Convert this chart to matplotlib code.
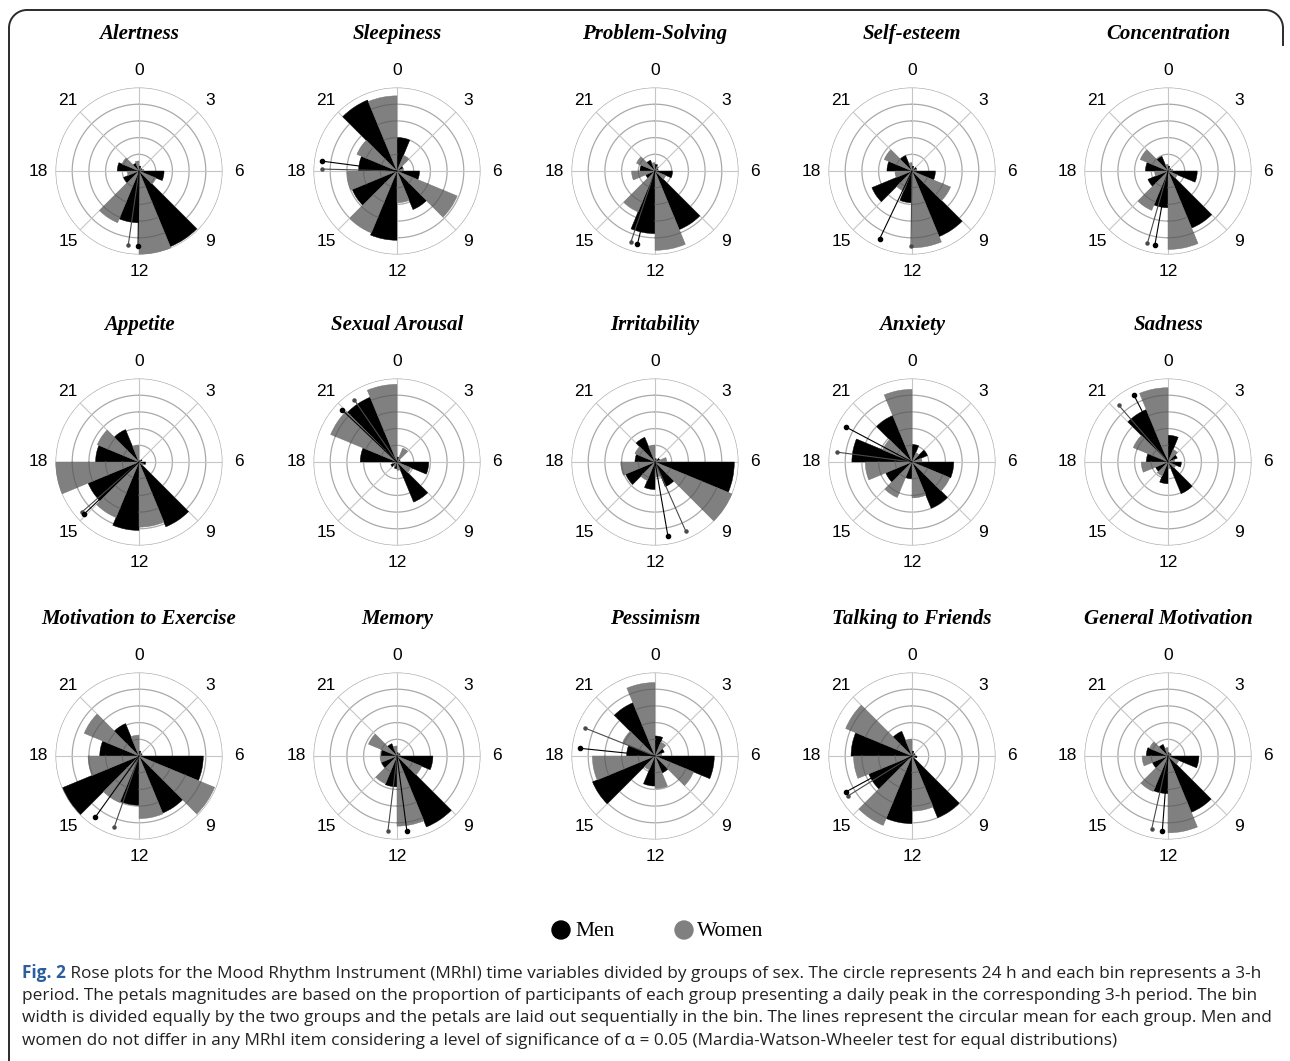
import numpy as np
import matplotlib
matplotlib.use('Agg')
import matplotlib.pyplot as plt
from matplotlib.patches import Circle

titles = ['Alertness', 'Sleepiness', 'Problem-Solving', 'Self-esteem', 'Concentration',
          'Appetite', 'Sexual Arousal', 'Irritability', 'Anxiety', 'Sadness',
          'Motivation to Exercise', 'Memory', 'Pessimism', 'Talking to Friends', 'General Motivation']

hour_ticks = [0, 3, 6, 9, 12, 15, 18, 21]

# petal lengths per 3-h bin (0-3, 3-6, ..., 21-24), 5 = outer ring
men = [
    [0.3, 0.2, 1.5, 4.9, 3.1, 1.0, 1.3, 0.5],
    [2.0, 0.4, 1.35, 2.5, 4.15, 2.9, 2.3, 4.6],
    [0.4, 0.2, 1.05, 3.8, 3.75, 0.6, 0.9, 0.7],
    [0.3, 0.3, 1.4, 4.25, 1.9, 2.6, 1.5, 1.0],
    [0.3, 0.2, 1.75, 3.7, 2.2, 1.3, 1.35, 0.95],
    [0.1, 0.2, 0.4, 4.2, 4.1, 3.3, 2.6, 2.1],
    [0.3, 0.2, 1.9, 2.6, 0.4, 0.4, 2.2, 4.2],
    [0.2, 0.3, 4.75, 1.6, 1.65, 1.9, 1.2, 1.6],
    [1.05, 1.0, 2.5, 3.0, 1.0, 1.7, 3.6, 3.0],
    [1.6, 0.6, 0.8, 2.05, 1.3, 0.8, 1.3, 3.4],
    [0.3, 0.2, 3.85, 3.7, 2.95, 4.95, 2.35, 2.1],
    [0.2, 0.2, 2.15, 4.6, 1.85, 1.0, 0.95, 0.8],
    [1.2, 0.6, 3.55, 1.1, 1.8, 4.05, 1.7, 3.45],
    [0.3, 0.2, 0.3, 4.0, 4.05, 2.8, 3.65, 1.6],
    [0.2, 0.2, 1.85, 3.65, 2.25, 1.0, 1.3, 0.75],
]
women = [
    [0.2, 0.3, 1.1, 5.0, 3.35, 0.7, 1.1, 0.6],
    [1.0, 0.4, 3.9, 1.9, 4.0, 3.0, 2.6, 4.5],
    [0.3, 0.2, 0.7, 4.75, 2.65, 1.4, 1.2, 0.5],
    [0.2, 0.3, 2.5, 4.6, 1.3, 1.0, 1.8, 0.5],
    [0.2, 0.3, 0.6, 4.7, 2.55, 0.8, 1.8, 0.4],
    [0.1, 0.1, 0.3, 3.9, 3.6, 5.0, 2.7, 1.0],
    [0.9, 0.2, 0.9, 0.5, 0.3, 0.3, 4.3, 4.65],
    [0.2, 0.7, 5.0, 0.9, 1.2, 2.05, 1.3, 1.0],
    [0.6, 0.6, 2.45, 2.15, 2.3, 2.8, 1.9, 4.35],
    [0.8, 0.4, 0.5, 0.4, 0.9, 1.6, 2.25, 4.45],
    [0.2, 0.2, 4.9, 3.75, 3.0, 3.05, 3.55, 1.25],
    [0.2, 0.2, 1.6, 4.2, 1.8, 1.0, 1.85, 0.6],
    [0.9, 0.4, 2.5, 1.95, 0.9, 3.75, 2.1, 4.4],
    [0.2, 0.2, 0.2, 3.3, 4.5, 3.5, 4.3, 1.0],
    [0.2, 0.2, 0.7, 4.6, 2.3, 1.55, 1.2, 0.5],
]

# circular means (hours)
men_mean = [12.05, 18.5, 12.9, 13.7, 12.67, 15.1, 20.9, 11.34, 19.86, 22.2,
            14.37, 11.5, 18.39, 16.1, 12.29]
women_mean = [12.55, 18.1, 13.25, 12.05, 13.06, 15.25, 21.7, 10.4, 18.5, 21.27,
              13.28, 12.46, 19.45, 15.87, 12.84]
mean_len = 4.5

caption_lines = [
    ' Rose plots for the Mood Rhythm Instrument (MRhI) time variables divided by groups of sex. The circle represents 24 h and each bin represents a 3-h',
    'period. The petals magnitudes are based on the proportion of participants of each group presenting a daily peak in the corresponding 3-h period. The bin',
    'width is divided equally by the two groups and the petals are laid out sequentially in the bin. The lines represent the circular mean for each group. Men and',
    'women do not differ in any MRhI item considering a level of significance of α = 0.05 (Mardia-Watson-Wheeler test for equal distributions)',
]

W, H = 1290, 1061
BLACK = '#000000'
GRAY = '#808080'


def h2rad(h):
    return np.asarray(h, dtype=float) / 24.0 * 2 * np.pi


fig = plt.figure(figsize=(W / 100, H / 100), dpi=100)
bg = fig.add_axes([0, 0, 1, 1])
bg.set_xlim(0, W)
bg.set_ylim(H, 0)
bg.axis('off')

centers_x = [139, 397, 655, 912, 1168]
centers_y = [171, 462, 756]
R = 83.5

circ = np.linspace(0, 2 * np.pi, 300)
starts = np.array(hour_ticks, dtype=float)

for i, title in enumerate(titles):
    cx = centers_x[i % 5]
    cy = centers_y[i // 5]
    ax = fig.add_axes([(cx - R) / W, (H - cy - R) / H, 2 * R / W, 2 * R / H], projection='polar')
    ax.set_theta_zero_location('N')
    ax.set_theta_direction(-1)
    ax.grid(False)
    ax.spines['polar'].set_visible(False)
    ax.patch.set_alpha(0)

    for r in range(1, 6):
        ax.plot(circ, np.full_like(circ, r), color='#a9a9a9', lw=0.9, zorder=1)
    for h in hour_ticks:
        ax.plot([h2rad(h)] * 2, [0, 5], color='#c6c6c6', lw=0.8, zorder=1)

    ax.bar(h2rad(starts), men[i], width=h2rad(1.5), align='edge',
           color=BLACK, edgecolor=BLACK, lw=0.3, zorder=2)
    ax.bar(h2rad(starts + 1.5), women[i], width=h2rad(1.5), align='edge',
           color=GRAY, edgecolor='#707070', lw=0.3, zorder=2)
    # ring arcs showing through the grey petals
    for s, v in zip(starts + 1.5, women[i]):
        for r in range(1, 5):
            if r < v:
                t = np.linspace(h2rad(s), h2rad(s + 1.5), 20)
                ax.plot(t, np.full_like(t, r), color='#686868', lw=0.8, zorder=3)

    ax.plot([h2rad(women_mean[i])] * 2, [0, mean_len], color='#4a4a4a', lw=0.8, zorder=4)
    ax.plot(h2rad(women_mean[i]), mean_len, 'o', color='#4a4a4a', ms=2.2, zorder=4)
    ax.plot([h2rad(men_mean[i])] * 2, [0, mean_len], color=BLACK, lw=0.8, zorder=4)
    ax.plot(h2rad(men_mean[i]), mean_len, 'o', color=BLACK, ms=3, zorder=4)

    ax.set_xticks([])
    ax.set_yticks([])
    ax.set_ylim(0, 5)
    for h in hour_ticks:
        ax.text(h2rad(h), 6.0, str(h), ha='center', va='center', fontsize=12.5,
                family='Liberation Sans', clip_on=False)

    bg.text(cx, cy - 137, title, ha='center', va='center', fontsize=15,
            family='Liberation Serif', style='italic', weight='bold')

# frame
rc = 18
a1 = np.linspace(np.pi, 1.5 * np.pi, 30)
a2 = np.linspace(1.5 * np.pi, 2 * np.pi, 30)
fx = np.concatenate([[9, 9], 9 + rc + rc * np.cos(a1), 1283 - rc + rc * np.cos(a2), [1283]])
fy = np.concatenate([[H, 10 + rc], 10 + rc + rc * np.sin(a1), 10 + rc + rc * np.sin(a2), [45]])
bg.plot(fx, fy, color='#2b2b2b', lw=1.4)

# legend
bg.add_patch(Circle((561, 930), 9, color=BLACK))
bg.text(575, 931, 'Men', fontsize=15.5, family='Liberation Serif', va='center', ha='left')
bg.add_patch(Circle((684, 930), 9, color=GRAY))
bg.text(697, 931, 'Women', fontsize=15.5, family='Liberation Serif', va='center', ha='left')

# caption
cap_font = dict(fontsize=12.4, family='Open Sans')
line_y = [973, 996, 1018.5, 1041]
t0 = bg.text(22, line_y[0], 'Fig. 2', color='#2a5f9e', weight='bold', va='center', **cap_font)
bg.annotate(caption_lines[0], xy=(1, 0), xycoords=t0, va='bottom', ha='left', color='#222222', **cap_font)
for y, line in zip(line_y[1:], caption_lines[1:]):
    bg.text(22, y, line, va='center', ha='left', color='#222222', **cap_font)

fig.savefig('out.png', dpi=100)
